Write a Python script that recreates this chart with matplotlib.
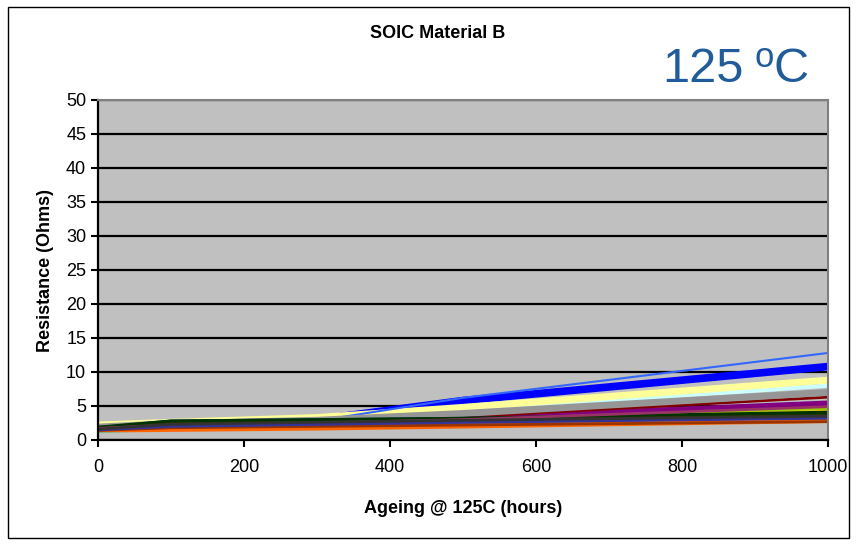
import matplotlib
matplotlib.use("Agg")
import matplotlib.pyplot as plt
from matplotlib.patches import Rectangle

plt.rcParams['font.family'] = ['Liberation Sans', 'DejaVu Sans']

# ageing time points (hours)
hours = [0, 100, 300, 500, 1000]

# resistance readings per part (Ohms), one list per series
r01 = [1.6, 2.5, 2.7, 2.9, 3.6]
r02 = [1.5, 2.1, 2.3, 2.6, 3.3]
r03 = [2.3, 2.6, 2.8, 3.0, 4.0]
r04 = [1.2, 1.6, 2.0, 2.3, 3.0]
r05 = [1.7, 2.2, 2.6, 3.2, 5.4]
r06 = [1.8, 2.3, 2.7, 3.4, 6.3]
r07 = [1.6, 2.3, 2.5, 2.8, 3.7]
r08 = [1.8, 2.5, 3.0, 5.8, 10.8]
r09 = [1.4, 2.0, 2.3, 2.6, 3.4]
r10 = [2.0, 2.4, 3.0, 4.3, 8.0]
r11 = [1.9, 2.3, 2.6, 2.9, 3.8]
r12 = [2.2, 2.6, 3.3, 4.8, 8.8]
r13 = [1.7, 2.2, 2.5, 2.8, 3.6]
r14 = [1.6, 2.1, 2.4, 2.7, 3.5]
r15 = [1.7, 2.2, 2.5, 2.9, 4.1]
r16 = [1.5, 2.0, 2.3, 2.6, 3.2]
r17 = [1.5, 2.0, 2.8, 6.2, 12.8]
r18 = [1.6, 2.2, 2.4, 2.7, 3.5]
r19 = [1.8, 2.3, 2.6, 3.0, 4.6]
r20 = [1.7, 2.2, 2.5, 2.9, 4.2]
r21 = [1.5, 1.9, 2.2, 2.5, 3.1]
r22 = [1.5, 1.6, 1.8, 2.1, 2.9]
r23 = [1.6, 2.0, 2.3, 2.6, 3.3]
r24 = [1.9, 2.4, 2.9, 3.9, 7.0]
r25 = [1.7, 2.7, 2.9, 3.1, 3.8]
r26 = [1.6, 2.2, 2.5, 2.8, 3.4]
r27 = [1.7, 2.6, 2.8, 3.0, 3.9]
r28 = [1.6, 2.4, 2.6, 2.9, 3.6]
r29 = [1.4, 1.8, 2.0, 2.2, 2.7]
r30 = [1.7, 2.2, 2.5, 3.0, 4.9]
r31 = [1.5, 2.0, 2.3, 2.6, 3.2]
r32 = [1.6, 2.3, 2.6, 2.9, 3.5]

series = [r01, r02, r03, r04, r05, r06, r07, r08, r09, r10, r11, r12, r13, r14, r15, r16,
          r17, r18, r19, r20, r21, r22, r23, r24, r25, r26, r27, r28, r29, r30, r31, r32]

# excel default line colours, in series order
colors = ['#000080', '#FF00FF', '#FFFF00', '#00FFFF', '#800080', '#800000', '#008080', '#0000FF',
          '#00CCFF', '#CCFFFF', '#CCFFCC', '#FFFF99', '#99CCFF', '#FF99CC', '#CC99FF', '#FFCC99',
          '#3366FF', '#33CCCC', '#99CC00', '#FFCC00', '#FF9900', '#FF6600', '#666699', '#969696',
          '#003366', '#339966', '#003300', '#333300', '#993300', '#993366', '#333399', '#333333']
widths = [2, 2, 2, 2, 4, 2, 2, 5.5, 2, 3, 2, 5, 2, 2, 2, 2,
          1.5, 2, 2, 2, 2, 4, 2, 5, 3, 2, 4, 2, 2, 2, 2, 2]

fig = plt.figure(figsize=(8.58, 5.45), dpi=100)
fig.patches.append(Rectangle((8/858, 7/545), 841/858, 531/545, transform=fig.transFigure,
                             fill=False, edgecolor='black', linewidth=1))

ax = fig.add_axes([98/858, 105/545, 730/858, 340/545])
ax.set_facecolor('#C0C0C0')

for vals, c, w in zip(series, colors, widths):
    ax.plot(hours, vals, color=c, linewidth=w, solid_capstyle='butt')

ax.set_xlim(0, 1000)
ax.set_ylim(0, 50)
ax.set_xticks(range(0, 1001, 200))
ax.set_yticks(range(0, 51, 5))
ax.yaxis.grid(True, color='black', linewidth=1.6)
ax.set_axisbelow(True)

for s in ['top', 'right']:
    ax.spines[s].set_color('#808080')
    ax.spines[s].set_linewidth(1.5)
for s in ['left', 'bottom']:
    ax.spines[s].set_color('black')
    ax.spines[s].set_linewidth(1.6)

ax.tick_params(axis='both', direction='out', length=5, width=1.5, labelsize=13, colors='black')
ax.tick_params(axis='x', pad=9)

ax.set_xlabel('Ageing @ 125C (hours)', fontsize=13, fontweight='bold', labelpad=17)
ax.set_ylabel('Resistance (Ohms)', fontsize=13, fontweight='bold', labelpad=9)

fig.text(438/858, 1 - 33/545, 'SOIC Material B', fontsize=13, fontweight='bold',
         ha='center', va='center')

# temperature label: "125", small raised "o", then "C"
blue = '#1F5C99'
fig.text(662/858, 1 - 82/545, '125', fontsize=35, color=blue, va='baseline')
fig.text(754/858, 1 - 41/545, 'o', fontsize=25, color=blue, va='top')
fig.text(774/858, 1 - 82/545, 'C', fontsize=35, color=blue, va='baseline')

fig.savefig('out.png', dpi=100)
